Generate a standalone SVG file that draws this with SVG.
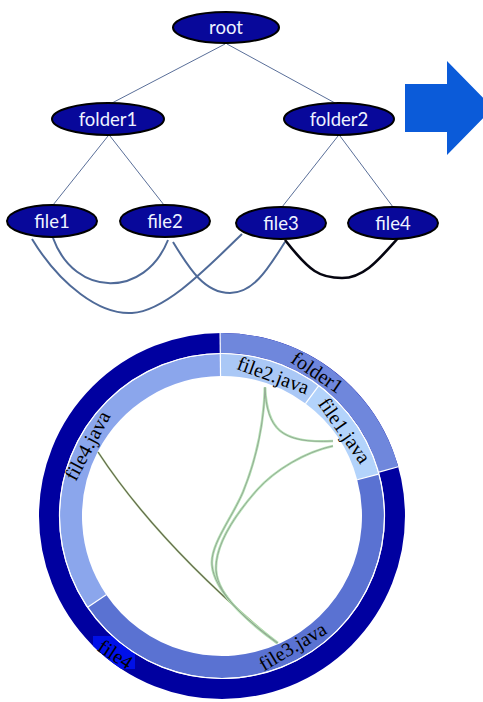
<svg xmlns="http://www.w3.org/2000/svg" width="483" height="702" viewBox="0 0 483 702">
<style>
.node ellipse{fill:#08089a;stroke:#000;stroke-width:2}
.node text{font-family:Lato,"Open Sans","Liberation Sans",sans-serif;font-size:18.5px;fill:#eef3ff;text-anchor:middle}
.tree line{stroke:#5a6f99;stroke-width:1}
.dep{fill:none;stroke:#4f6a98;stroke-width:2}
.dep.strong{stroke:#050510;stroke-width:2.6}
.lbl{font-family:"Liberation Serif",serif;font-size:20px;fill:#000;text-anchor:middle}
.sep{stroke:#fff;stroke-width:1.2;fill:none}
.chordo{fill:none;stroke:#b5e2b5;stroke-width:2.6}
.chordi{fill:none;stroke:#8c9c8c;stroke-width:0.8}
</style>
<defs>
<clipPath id="ringclip"><path clip-rule="evenodd" d="M39,516 a183,183 0 1,0 366,0 a183,183 0 1,0 -366,0 Z M59,516 a163,163 0 1,0 326,0 a163,163 0 1,0 -326,0 Z"/></clipPath>
</defs>
<rect width="483" height="702" fill="#fff"/>

<g id="connectors">
<g class="tree">
<line x1="225" y1="44" x2="112" y2="103"/>
<line x1="227" y1="44" x2="335" y2="103"/>
<line x1="108" y1="136" x2="53" y2="205"/>
<line x1="110" y1="136" x2="164" y2="205"/>
<line x1="338" y1="136" x2="282" y2="207"/>
<line x1="340" y1="136" x2="393" y2="207"/>
</g>
<path class="dep" d="M53,238 C75,298 145,298 168,240"/>
<path class="dep" d="M32,239 C60,285 100,315 132,313 C165,311 205,270 242,234"/>
<path class="dep" d="M173,242 C190,270 205,293 230,293 C255,293 270,265 285,242"/>
<path class="dep strong" d="M285,240 C310,272 320,278 342,278 C365,278 380,258 400,236"/>
</g>

<g id="root" class="node"><ellipse cx="226" cy="27.5" rx="53" ry="15.5"/><text x="226" y="34">root</text></g>
<g id="folder1" class="node"><ellipse cx="108" cy="119" rx="56" ry="16"/><text x="108" y="125.5">folder1</text></g>
<g id="folder2" class="node"><ellipse cx="339" cy="119" rx="55" ry="16"/><text x="339" y="125.5">folder2</text></g>
<g id="file1" class="node"><ellipse cx="52" cy="221" rx="45" ry="16"/><text x="52" y="227.5">file1</text></g>
<g id="file2" class="node"><ellipse cx="165" cy="221" rx="45" ry="16"/><text x="165" y="227.5">file2</text></g>
<g id="file3" class="node"><ellipse cx="281" cy="223" rx="45" ry="16"/><text x="281" y="229.5">file3</text></g>
<g id="file4" class="node"><ellipse cx="393" cy="223" rx="45" ry="16"/><text x="393" y="229.5">file4</text></g>

<polygon points="405,84 447,84 447,61 493,108 447,155 447,132 405,132" fill="#0b5bd9"/>

<g id="ring">
<circle cx="222" cy="516" r="173" fill="none" stroke="#0000a0" stroke-width="20"/>
<path d="M220.19,343.01 A173,173 0 0 1 388.63,469.48" fill="none" stroke="#6f87dc" stroke-width="20"/>
<rect x="93" y="636" width="42" height="33" fill="#0010e8" clip-path="url(#ringclip)"/>
<path d="M220.42,365.01 A151,151 0 0 1 312.03,394.77" fill="none" stroke="#aac8f6" stroke-width="22"/>
<path d="M312.03,394.77 A151,151 0 0 1 367.85,476.92" fill="none" stroke="#b3d3fb" stroke-width="22"/>
<path d="M367.85,476.92 A151,151 0 0 1 97.11,600.88" fill="none" stroke="#5a72d2" stroke-width="22"/>
<path d="M97.11,600.88 A151,151 0 0 1 220.42,365.01" fill="none" stroke="#8ba6ec" stroke-width="22"/>
<circle class="sep" cx="222" cy="516" r="162.5"/>
<line class="sep" x1="220.53" y1="376.01" x2="220.08" y2="333.01"/>
<line class="sep" x1="305.47" y1="403.61" x2="318.58" y2="385.95"/>
<line class="sep" x1="357.23" y1="479.77" x2="378.48" y2="474.07"/>
<line class="sep" x1="379.0" y1="472.17" x2="398.27" y2="466.79"/>
<line class="sep" x1="106.21" y1="594.69" x2="88.01" y2="607.06"/>
</g>

<g id="chords">
<path d="M98,452 Q159,545 277,643" fill="none" stroke="#c9e6b8" stroke-width="2.2"/>
<path d="M98,452 Q159,545 277,643" fill="none" stroke="#62664a" stroke-width="1.2"/>
<path class="chordo" d="M265,388 C267,428 280,444 333,441"/>
<path class="chordo" d="M333,446 C305,452 275,470 257,490 C235,515 215,545 216,570 C218,598 250,622 278,643"/>
<path class="chordo" d="M265,387 C264,420 258,455 243,492 C232,518 210,545 212,565 C214,590 245,620 277,643"/>
<path class="chordi" d="M265,388 C267,428 280,444 333,441"/>
<path class="chordi" d="M333,446 C305,452 275,470 257,490 C235,515 215,545 216,570 C218,598 250,622 278,643"/>
<path class="chordi" d="M265,387 C264,420 258,455 243,492 C232,518 210,545 212,565 C214,590 245,620 277,643"/>
</g>

<g id="labels">
<text class="lbl" transform="translate(317,373) rotate(34)" dy="6">folder1</text>
<text class="lbl" transform="translate(273,376) rotate(20)" dy="6">file2.java</text>
<text class="lbl" transform="translate(344,431) rotate(55)" dy="6">file1.java</text>
<text class="lbl" transform="translate(88,446) rotate(-62)" dy="6">file4.java</text>
<text class="lbl" transform="translate(293,647) rotate(-31)" dy="6">file3.java</text>
<text class="lbl" transform="translate(115,655) rotate(33)" dy="6">file4</text>
</g>
</svg>
